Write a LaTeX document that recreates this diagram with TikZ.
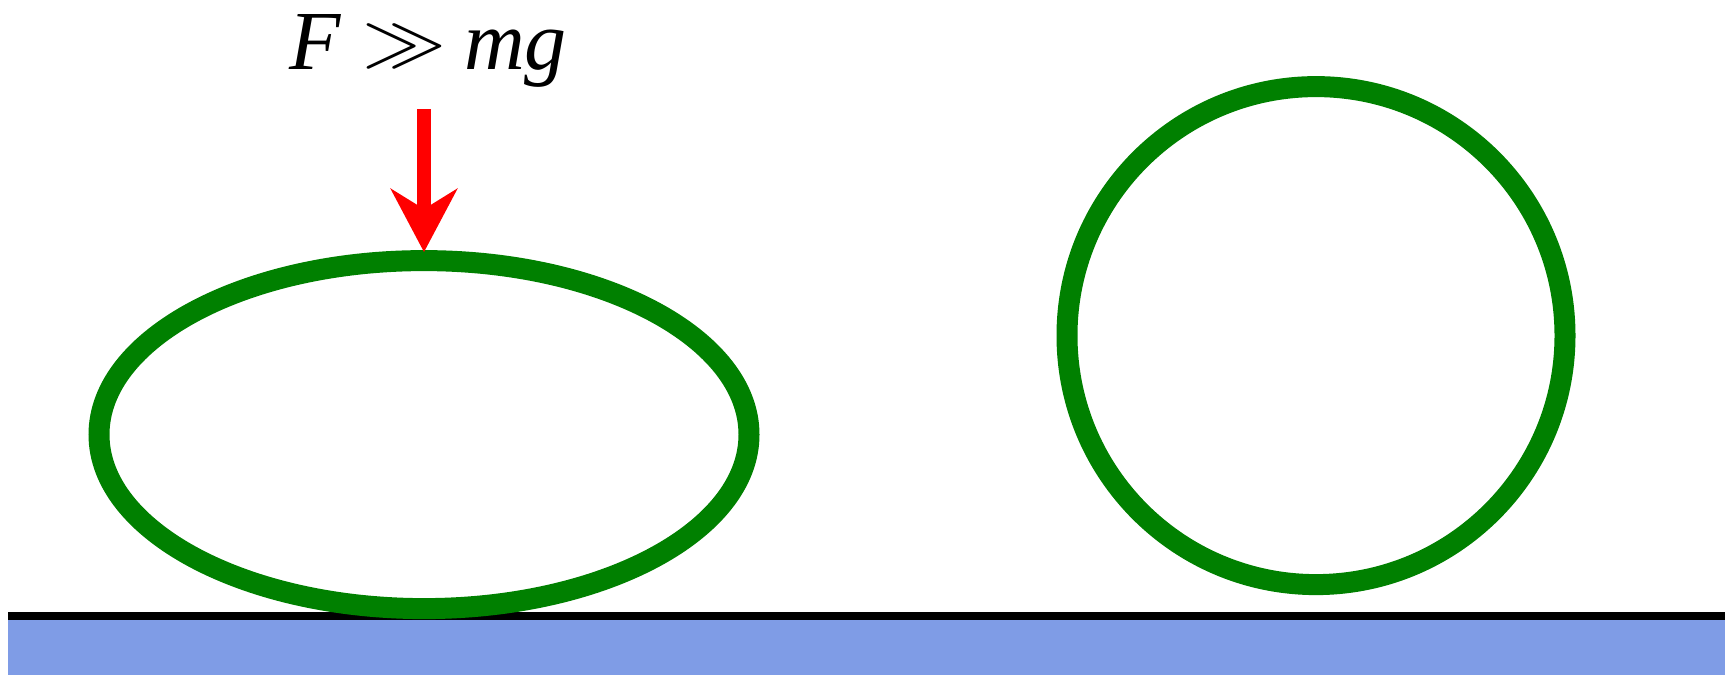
\RequirePackage{fix-cm}
\documentclass[tikz,border=0pt]{standalone}
\usepackage{fontspec}
\usepackage{graphicx}
\usetikzlibrary{shapes.geometric,arrows.meta}
\newfontfamily\libserif{Liberation Serif}
\definecolor{ballgreen}{RGB}{0,128,0}
\definecolor{groundblue}{RGB}{127,156,230}
\tikzset{
  ball/.style={draw=ballgreen, line width=21pt, inner sep=0pt, fill=none},
  force/.style={draw=red, line width=14pt, -{Stealth[length=63pt, width=66pt, inset=20pt]}},
}
\begin{document}
\begin{tikzpicture}[x=1pt,y=-1pt]
\useasboundingbox (0,0) rectangle (1725,675);
% ground
\fill[groundblue] (8,620) rectangle (1725,675);
\draw[black, line width=8pt] (8,616) -- (1725,616);
% balls
\node[ball, ellipse, minimum width=650pt, minimum height=348pt] (squashed) at (424,434.6) {};
\node[ball, circle, minimum size=498pt] (round) at (1316,335.6) {};
% force
\coordinate (ftop) at (424,109);
\draw[force, shorten >=-2pt] (ftop) -- (squashed.north);
\node[anchor=base, inner sep=0pt, font=\fontsize{84}{90}\selectfont] (label) at (428,69) {{\libserif\itshape F}\hspace{22pt}\raisebox{4.5pt}{\scalebox{1.0}[0.86]{$\gg$}}\hspace{18pt}{\libserif\itshape mg}};
\end{tikzpicture}
\end{document}
